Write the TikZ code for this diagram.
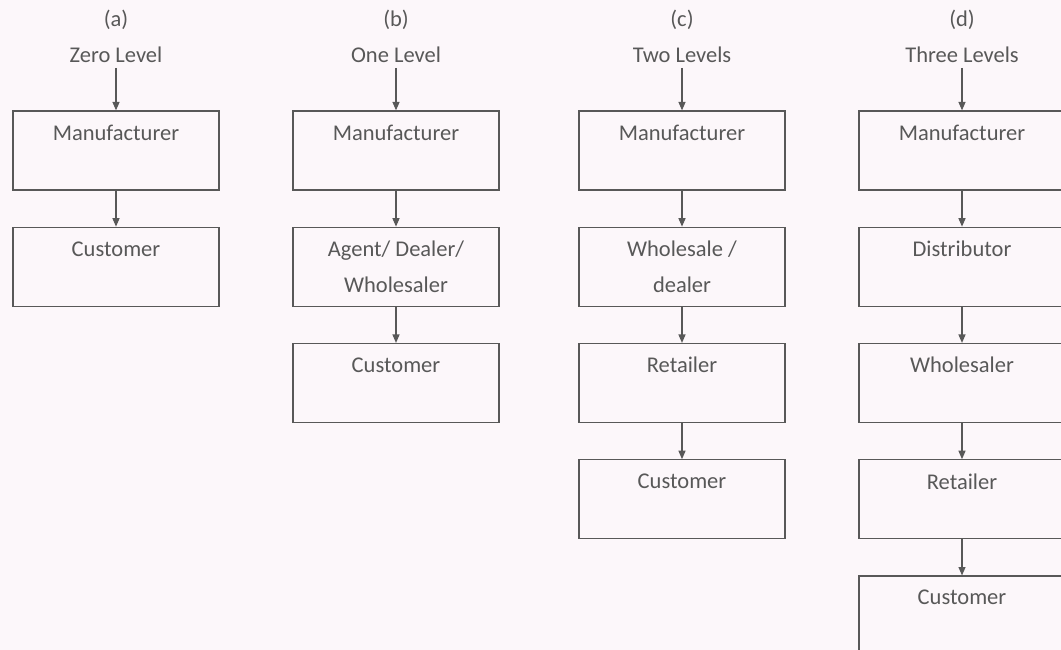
\documentclass[tikz,border=0pt]{standalone}
\usepackage{fontspec}
\setmainfont{Carlito}
\usetikzlibrary{positioning,arrows.meta}
\definecolor{paper}{RGB}{252,247,250}
\definecolor{ink}{RGB}{88,88,88}
\tikzset{
    chbox/.style={draw=ink, line width=0.9pt, minimum width=5.15cm, minimum height=1.975cm,
        align=center, text=ink, inner sep=0pt, font=\fontsize{16}{25.5}\selectfont},
    flow/.style={draw=ink, line width=0.8pt, -{Triangle[width=5pt,length=6pt]}},
    head/.style={text=ink, font=\fontsize{16}{19}\selectfont}
}

\begin{document}
\begin{tikzpicture}
    \fill[paper] (0,0) rectangle (26.525,-16.25);
    \useasboundingbox (0,0) rectangle (26.525,-16.25);

            %zero level
            \node[head] (ha) at (2.9,-0.5) {(a)};
            \node[head] (la) at (2.9,-1.375) {Zero Level};
            \node[chbox] (ma) at (2.9,-3.7625) {Manufacturer\\\mbox{}};
            \node[chbox,below=0.9cm of ma] (ca) {Customer\\\mbox{}};
            \draw[flow] (la) -- (ma);
            \draw[flow] (ma) -- (ca);

            %one level
            \node[head] (hb) at (9.9,-0.5) {(b)};
            \node[head] (lb) at (9.9,-1.375) {One Level};
            \node[chbox] (mb) at (9.9,-3.7625) {Manufacturer\\\mbox{}};
            \node[chbox,below=0.9cm of mb] (db) {Agent/ Dealer/\\Wholesaler};
            \node[chbox,below=0.9cm of db] (cb) {Customer\\\mbox{}};
            \draw[flow] (lb) -- (mb);
            \draw[flow] (mb) -- (db);
            \draw[flow] (db) -- (cb);

            %two levels
            \node[head] (hc) at (17.05,-0.5) {(c)};
            \node[head] (lc) at (17.05,-1.375) {Two Levels};
            \node[chbox] (mc) at (17.05,-3.7625) {Manufacturer\\\mbox{}};
            \node[chbox,below=0.9cm of mc] (wc) {Wholesale /\\dealer};
            \node[chbox,below=0.9cm of wc] (rc) {Retailer\\\mbox{}};
            \node[chbox,below=0.9cm of rc] (cc) {Customer\\\mbox{}};
            \draw[flow] (lc) -- (mc);
            \draw[flow] (mc) -- (wc);
            \draw[flow] (wc) -- (rc);
            \draw[flow] (rc) -- (cc);

            %three levels
            \node[head] (hd) at (24.05,-0.5) {(d)};
            \node[head] (ld) at (24.05,-1.375) {Three Levels};
            \node[chbox] (md) at (24.05,-3.7625) {Manufacturer\\\mbox{}};
            \node[chbox,below=0.9cm of md] (dd) {Distributor\\\mbox{}};
            \node[chbox,below=0.9cm of dd] (wd) {Wholesaler\\\mbox{}};
            \node[chbox,below=0.9cm of wd] (rd) {Retailer\\\mbox{}};
            \node[chbox,below=0.9cm of rd] (cd) {Customer\\\mbox{}};
            \draw[flow] (ld) -- (md);
            \draw[flow] (md) -- (dd);
            \draw[flow] (dd) -- (wd);
            \draw[flow] (wd) -- (rd);
            \draw[flow] (rd) -- (cd);
        \end{tikzpicture}
\end{document}
